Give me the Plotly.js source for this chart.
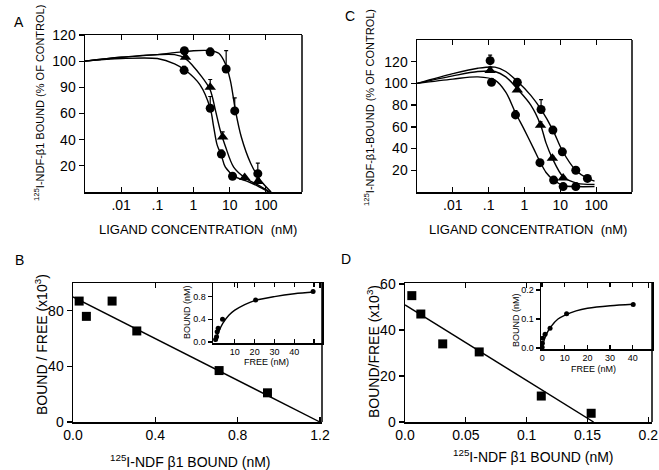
<!DOCTYPE html>
<html>
<head>
<meta charset="utf-8">
<script src="https://cdn.plot.ly/plotly-3.0.1.min.js"></script>
<style>html,body{margin:0;padding:0;background:#fff}#chart{width:659px;height:470px}</style>
</head>
<body>
<div id="chart"></div>
<script>
// ---------- Panel A data ----------
const aTopCurveX = [0.001, 0.01, 0.1, 0.3, 1, 3, 5, 7.6, 10.5, 14.5, 21, 38, 71, 140];
const aTopCurveY = [100, 103, 105, 106.5, 108, 108, 106, 98, 85, 62, 42, 22, 9, 0];
const aMidCurveX = [0.001, 0.01, 0.1, 0.3, 0.6, 1.7, 2.9, 4, 5.5, 7.6, 12.9, 26, 64, 130];
const aMidCurveY = [100, 103, 105, 105, 102, 88, 78, 63, 47, 35, 19, 11, 5, 0];
const aLowCurveX = [0.001, 0.01, 0.1, 0.3, 0.6, 1.5, 2.9, 3.6, 4.5, 5.9, 7.6, 14.5, 32, 60, 120];
const aLowCurveY = [100, 102, 102, 98, 93, 82, 64, 50, 36, 28, 19, 11.5, 8, 4.5, 0];
const aTopPtsX = [0.56, 2.9, 8, 13.8, 60];
const aTopPtsY = [108, 107, 94, 62, 14];
const aTopErr  = [2, 3, 14, 10, 8];
const aMidPtsX = [0.6, 2.9, 6.4, 26, 60];
const aMidPtsY = [103, 80, 42, 11, 8];
const aMidErr  = [3, 6, 4, 1, 2];
const aLowPtsX = [0.55, 2.9, 5.9, 12];
const aLowPtsY = [93, 64, 29, 12];
const aLowErr  = [3, 9, 3, 2];
const aYTickVals = [20, 40, 60, 80, 100, 120];
const aYTickText = ["20", "40", "60", "90", "100", "120"];

// ---------- Panel C data ----------
const cTopCurveX = [0.001, 0.01, 0.05, 0.15, 0.3, 0.63, 1.5, 2.9, 6.2, 11.4, 27, 57, 90];
const cTopCurveY = [100, 109, 114, 115, 111, 102, 89, 76, 57, 38, 20, 12.5, 10];
const cMidCurveX = [0.001, 0.01, 0.05, 0.15, 0.3, 0.63, 1.5, 2.8, 4, 6, 12, 30, 90];
const cMidCurveY = [100, 107, 111, 111, 106, 95, 80, 62, 45, 31, 14, 8, 7];
const cLowCurveX = [0.001, 0.01, 0.05, 0.15, 0.3, 0.56, 1, 1.8, 2.7, 4, 6.5, 12, 27, 90];
const cLowCurveY = [100, 104, 106, 103, 92, 73, 57, 40, 28, 18, 11, 6, 5, 5];
const cTopPtsX = [0.11, 0.63, 2.9, 6.2, 11.4, 27, 57];
const cTopPtsY = [121, 101, 76, 57, 37, 20, 12.5];
const cTopErr  = [5, 2, 9, 3, 2, 1, 1];
const cMidPtsX = [0.11, 0.63, 2.8, 6, 12];
const cMidPtsY = [112, 94, 61.5, 31, 13];
const cMidErr  = [3, 3, 3, 2, 1];
const cLowPtsX = [0.12, 0.56, 2.7, 6.5, 12, 27];
const cLowPtsY = [101, 71, 27, 11, 5, 5];
const cLowErr  = [3, 4, 2, 1, 1, 1];
const cYTickVals = [20, 40, 60, 80, 100, 120];

const logTickVals = [0.01, 0.1, 1, 10, 100];
const logTickText = [".01", ".1", "1", "10", "100"];

// ---------- Panel B data ----------
const bX = [0.03, 0.065, 0.19, 0.31, 0.71, 0.945];
const bY = [87, 76, 87, 65.5, 37, 21];
const bFitX = [0, 1.2];
const bFitY = [90, 0];
const biX = [0.3, 0.8, 1.1, 1.6, 3.8, 20.5, 49.5];
const biY = [0.04, 0.09, 0.18, 0.24, 0.40, 0.74, 0.89];
const biCurveX = [0, 1, 2, 4, 7, 10, 15, 20, 30, 40, 50];
const biCurveY = [0, 0.1, 0.19, 0.33, 0.47, 0.56, 0.66, 0.73, 0.8, 0.85, 0.88];

// ---------- Panel D data ----------
const dX = [0.0056, 0.013, 0.031, 0.061, 0.112, 0.153];
const dY = [55, 47, 34, 30.5, 11.3, 3.8];
const dFitX = [0, 0.155];
const dFitY = [51, 0];
const diX = [0, 0.1, 0.2, 1.3, 3.5, 10.8, 40.2];
const diY = [0.003, 0.017, 0.034, 0.048, 0.068, 0.118, 0.15];
const diCurveX = [0, 1, 2, 4, 7, 10, 15, 20, 30, 40];
const diCurveY = [0, 0.03, 0.05, 0.075, 0.1, 0.113, 0.128, 0.137, 0.146, 0.151];

// ---------- helpers ----------
const W = 659, H = 470;
const FONT = "Liberation Sans, Arial, sans-serif";
function dx(a, b) { return [a / W, b / W]; }
function dy(top, bot) { return [1 - bot / H, 1 - top / H]; }

function curve(x, y, xa, ya) {
  return {x: x, y: y, xaxis: xa, yaxis: ya, mode: "lines", type: "scatter",
    line: {color: "#000", width: 1.4, shape: "spline", smoothing: 0.9}, hoverinfo: "skip"};
}
function pts(x, y, err, xa, ya, sym, size) {
  const t = {x: x, y: y, xaxis: xa, yaxis: ya, mode: "markers", type: "scatter",
    marker: {color: "#000", symbol: sym, size: size}};
  if (err) t.error_y = {type: "data", array: err, arrayminus: err.map(() => 0), color: "#000", thickness: 1.2, width: 2};
  return t;
}

const data = [
  curve(aTopCurveX, aTopCurveY, "x", "y"),
  curve(aMidCurveX, aMidCurveY, "x", "y"),
  curve(aLowCurveX, aLowCurveY, "x", "y"),
  pts(aTopPtsX, aTopPtsY, aTopErr, "x", "y", "circle", 9),
  pts(aMidPtsX, aMidPtsY, aMidErr, "x", "y", "triangle-up", 10),
  pts(aLowPtsX, aLowPtsY, aLowErr, "x", "y", "circle", 9),

  curve(cTopCurveX, cTopCurveY, "x2", "y2"),
  curve(cMidCurveX, cMidCurveY, "x2", "y2"),
  curve(cLowCurveX, cLowCurveY, "x2", "y2"),
  pts(cTopPtsX, cTopPtsY, cTopErr, "x2", "y2", "circle", 9),
  pts(cMidPtsX, cMidPtsY, cMidErr, "x2", "y2", "triangle-up", 10),
  pts(cLowPtsX, cLowPtsY, cLowErr, "x2", "y2", "circle", 9),

  {x: bFitX, y: bFitY, xaxis: "x3", yaxis: "y3", mode: "lines", type: "scatter", line: {color: "#000", width: 1.4}},
  pts(bX, bY, null, "x3", "y3", "square", 9),
  curve(biCurveX, biCurveY, "x5", "y5"),
  pts(biX, biY, null, "x5", "y5", "circle", 5),

  {x: dFitX, y: dFitY, xaxis: "x4", yaxis: "y4", mode: "lines", type: "scatter", line: {color: "#000", width: 1.4}},
  pts(dX, dY, null, "x4", "y4", "square", 9),
  curve(diCurveX, diCurveY, "x6", "y6"),
  pts(diX, diY, null, "x6", "y6", "circle", 5)
];

function xax(dom, anchor, extra) {
  return Object.assign({domain: dom, anchor: anchor, showline: true, linecolor: "#000", linewidth: 1.5,
    mirror: "ticks", ticks: "inside", ticklen: 5, tickwidth: 1.3, tickcolor: "#000",
    showgrid: false, zeroline: false, tickfont: {family: FONT, size: 14, color: "#000"}, fixedrange: true}, extra);
}
function yax(dom, anchor, extra) {
  return Object.assign({domain: dom, anchor: anchor, showline: true, linecolor: "#000", linewidth: 1.5,
    mirror: false, ticks: "outside", ticklen: 5, tickwidth: 1.3, tickcolor: "#000",
    showgrid: false, zeroline: false, tickfont: {family: FONT, size: 14, color: "#000"}, fixedrange: true}, extra);
}
function yRight(dom, anchor, over, range, vals) {
  return {domain: dom, anchor: anchor, overlaying: over, side: "right", range: range, tickmode: "array",
    tickvals: vals, showticklabels: false, ticks: "inside", ticklen: 5, tickwidth: 1.3, tickcolor: "#000",
    showline: false, showgrid: false, zeroline: false, fixedrange: true};
}

const domA = [dx(85, 302), dy(35, 192)];
const domC = [dx(417, 632), dy(40, 192)];
const domB = [dx(73, 322), dy(283, 422)];
const domD = [dx(405, 652), dy(283, 422)];
const domBi = [dx(213, 322), dy(283, 343)];
const domDi = [dx(541, 652), dy(283, 349)];
const insetFont = {family: FONT, size: 9, color: "#000"};

const layout = {
  width: W, height: H, margin: {l: 0, r: 0, t: 0, b: 0}, showlegend: false,
  paper_bgcolor: "#fff", plot_bgcolor: "rgba(0,0,0,0)", font: {family: FONT, color: "#000"},
  xaxis: xax(domA[0], "y", {type: "log", range: [-3, 3], tickmode: "array", tickvals: logTickVals, ticktext: logTickText}),
  yaxis: yax(domA[1], "x", {range: [0, 120], tickmode: "array", tickvals: aYTickVals, ticktext: aYTickText}),
  xaxis2: xax(domC[0], "y2", {type: "log", range: [-3, 3], tickmode: "array", tickvals: logTickVals, ticktext: logTickText}),
  yaxis2: yax(domC[1], "x2", {range: [0, 140], tickmode: "array", tickvals: cYTickVals}),
  xaxis3: xax(domB[0], "y3", {range: [0, 1.21], tickmode: "array", tickvals: [0, 0.4, 0.8, 1.2], ticktext: ["0.0", "0.4", "0.8", "1.2"]}),
  yaxis3: yax(domB[1], "x3", {range: [0, 100], tickmode: "array", tickvals: [0, 40, 80]}),
  xaxis4: xax(domD[0], "y4", {range: [0, 0.203], tickmode: "array", tickvals: [0, 0.05, 0.1, 0.15, 0.2], ticktext: ["0.0", "0.05", "0.1", "0.15", "0.2"]}),
  yaxis4: yax(domD[1], "x4", {range: [0, 60.5], tickmode: "array", tickvals: [0, 20, 40, 60]}),
  xaxis5: xax(domBi[0], "y5", {range: [-1, 54], tickmode: "array", tickvals: [10, 20, 30, 40, 50], ticktext: ["10", "20", "30", "40", ""], ticklen: 4, tickfont: insetFont}),
  yaxis5: yax(domBi[1], "x5", {range: [-0.02, 1.04], tickmode: "array", tickvals: [0, 0.4, 0.8], ticktext: ["0.0", "0.4", "0.8"], ticklen: 4, tickfont: insetFont, mirror: true}),
  xaxis6: xax(domDi[0], "y6", {range: [-0.5, 48.5], tickmode: "array", tickvals: [0, 10, 20, 30, 40], ticklen: 4, tickfont: insetFont}),
  yaxis6: yax(domDi[1], "x6", {range: [-0.003, 0.224], tickmode: "array", tickvals: [0, 0.1, 0.2], ticktext: ["0.0", "0.1", "0.2"], ticklen: 4, tickfont: insetFont, mirror: true}),
  yaxis7: yRight(domA[1], "x", "y", [0, 120], aYTickVals),
  yaxis8: yRight(domC[1], "x2", "y2", [0, 140], cYTickVals),
  yaxis9: yRight(domB[1], "x3", "y3", [0, 100], [40, 80]),
  yaxis10: yRight(domD[1], "x4", "y4", [0, 60.5], [20, 40]),
  annotations: []
};
// right border lines for main panels
layout.shapes = [domA, domC, domB, domD].map(d => ({type: "line", xref: "paper", yref: "paper",
  x0: d[0][1], x1: d[0][1], y0: d[1][0], y1: d[1][1], line: {color: "#000", width: 1.5}}));

function ann(text, x, y, size, angle) {
  layout.annotations.push({text: text, x: x / W, y: 1 - y / H, xref: "paper", yref: "paper",
    showarrow: false, textangle: angle || 0, xanchor: "center", yanchor: "middle",
    font: {family: FONT, size: size, color: "#000"}});
}
ann("A", 19, 22, 14);
ann("C", 350, 16, 14);
ann("B", 19, 260, 14);
ann("D", 346, 259, 14);
ann("<sup>125</sup>I-NDF-β1 BOUND (% OF CONTROL)", 39, 103, 11, -90);
ann("<sup>125</sup>I-NDF-β1-BOUND (% OF CONTROL)", 369, 108, 11, -90);
ann("LIGAND CONCENTRATION  (nM)", 198, 230, 13);
ann("LIGAND CONCENTRATION  (nM)", 528, 230, 13);
ann("BOUND / FREE (x10<sup>3</sup>)", 41, 345, 14, -90);
ann("BOUND/FREE (x10<sup>3</sup>)", 373, 352, 14, -90);
ann("<sup>125</sup>I-NDF β1 BOUND (nM)", 190, 461, 14);
ann("<sup>125</sup>I-NDF β1 BOUND (nM)", 533, 456, 14);
ann("BOUND (nM)", 187, 312, 9, -90);
ann("FREE (nM)", 266, 362, 9);
ann("BOUND (nM)", 516, 320, 9, -90);
ann("FREE (nM)", 593, 369, 9);

Plotly.newPlot("chart", data, layout, {staticPlot: true});
</script>
</body>
</html>
